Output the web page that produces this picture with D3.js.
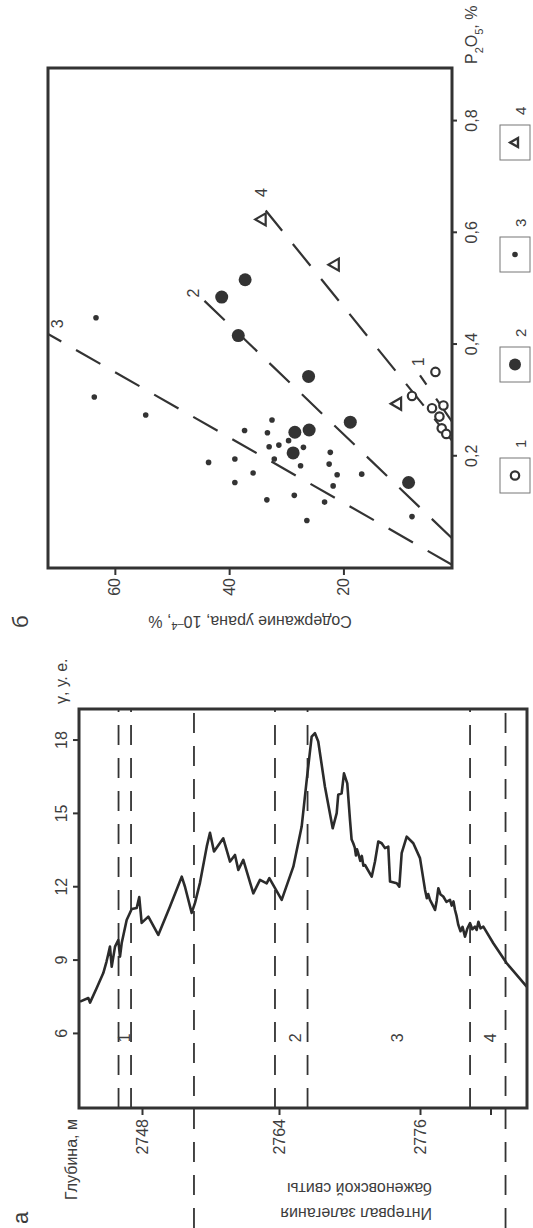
<!DOCTYPE html>
<html><head><meta charset="utf-8">
<script src="https://cdn.jsdelivr.net/npm/d3@7"></script>
<style>
body{margin:0;background:#fff}
svg{display:block}
text{font-family:"Liberation Sans",Arial,sans-serif;fill:#3d3d3d}
</style>
</head><body>
<svg id="c" width="533" height="1228"></svg>
<script>
// ---------- panel a: gamma log ----------
const gammaTicks = [6, 9, 12, 15, 18];
const depthTicks = [2748, 2764, 2776, 2782];
const depthTickLabels = ["2748", "2764", "2776", ""];
const gammaDepth = [2740.76,2741.73,2741.93,2742.71,2743.48,2743.85,2744.05,2744.26,2744.46,2744.85,2745.23,2745.43,
 2745.63,2746.21,2746.80,2747.38,2747.68,2747.96,2748.74,2749.90,2751.27,2752.64,
 2753.02,2753.80,2754.19,2754.77,2755.56,2755.94,2756.41,2757.49,2758.28,2758.86,
 2759.25,2759.83,2761.00,2761.78,2762.56,2762.87,2764.23,2765.22,2765.93,2766.36,
 2766.78,2767.06,2767.34,2767.91,2768.57,2768.91,2769.04,2769.33,2769.53,2769.81,
 2770.05,2770.18,2770.32,2770.45,2770.55,2770.64,2770.74,2770.92,2771.05,2771.18,2771.32,
 2771.89,2772.17,2772.45,2772.74,2773.02,2773.30,2773.45,
 2774.02,2774.24,2774.44,2774.87,2775.43,2776.00,2776.43,2776.58,2776.70,2776.85,2777.05,2777.28,2777.42,2777.56,
 2777.75,2777.98,2778.25,2778.55,2778.70,2778.85,2778.98,2779.10,2779.26,2779.45,2779.62,2779.83,2780.02,2780.26,2780.45,2780.68,2780.82,2780.97,2781.15,2781.39,2782.24,
 2783.38,2785.08];
const gammaValue = [7.32,7.47,7.28,7.88,8.49,8.95,9.25,9.57,8.75,9.57,9.84,9.16,
 9.72,10.66,11.11,11.15,11.60,10.54,10.80,10.05,11.21,12.43,
 12.02,10.95,11.36,12.18,13.66,14.23,13.46,14.00,13.05,13.32,
 12.71,13.12,11.75,12.30,12.16,12.37,11.48,12.84,14.48,16.39,
 18.16,18.30,17.96,16.11,14.41,15.03,15.78,15.84,16.66,16.25,
 14.70,13.95,13.80,13.62,13.30,13.55,13.39,13.08,13.28,12.88,12.91,
 12.43,13.05,13.87,13.80,13.60,13.66,12.23,
 12.16,12.02,13.39,14.07,13.80,13.19,11.89,11.55,11.72,11.48,11.30,11.07,11.45,11.96,
 11.70,11.62,11.40,11.48,11.25,11.42,11.07,10.85,10.46,10.20,10.38,9.98,10.30,10.53,10.28,10.39,10.25,10.59,10.32,10.39,9.71,
 8.89,7.93];
const zoneBoundaries = [2745.26, 2746.72, 2754.07, 2763.53, 2766.43, 2780.26, 2783.28];
const bazhenovBounds = [2754.07, 2783.28];
const zoneLabels = ["1", "2", "3", "4"];
const zoneLabelDepth = [2746.0, 2765.36, 2774.04, 2781.96];
const zoneLabelGamma = 5.84;

// ---------- panel б: U vs P2O5 ----------
const p2o5Ticks = [0.2, 0.4, 0.6, 0.8];
const p2o5TickLabels = ["0,2", "0,4", "0,6", "0,8"];
const uTicks = [20, 40, 60];
const g1P = [0.351, 0.308, 0.286, 0.291, 0.271, 0.250, 0.240];
const g1U = [3.9, 8.0, 4.5, 2.5, 3.2, 2.8, 2.0];
const g2P = [0.485, 0.516, 0.416, 0.343, 0.261, 0.243, 0.247, 0.206, 0.153];
const g2U = [41.3, 37.2, 38.4, 26.1, 18.8, 28.5, 26.0, 28.8, 8.6];
const g3P = [0.448, 0.306, 0.274, 0.265, 0.246, 0.242, 0.228, 0.220, 0.217, 0.216, 0.195, 0.195, 0.207,
 0.189, 0.183, 0.186, 0.170, 0.167, 0.168, 0.153, 0.147, 0.130, 0.122, 0.118, 0.085, 0.092];
const g3U = [63.3, 63.6, 54.6, 32.5, 37.3, 33.3, 29.6, 31.3, 33.0, 27.0, 39.0, 32.1, 22.3,
 43.6, 27.5, 22.5, 35.8, 21.1, 16.8, 39.0, 21.8, 28.6, 33.4, 23.3, 26.4, 8.0];
const g4P = [0.624, 0.543, 0.294];
const g4U = [34.3, 21.5, 10.6];
const trendNames = ["1", "2", "3", "4"];
const trendStartP = [0.262, 0.0532, 0.0058, 0.228];
const trendEndP = [0.345, 0.480, 0.419, 0.640];
const trendStartU = [1.0, 1.0, 1.0, 1.0];
const trendEndU = [6.6, 44.5, 71.7, 33.6];
const trendLabelP = [0.369, 0.492, 0.437, 0.672];
const trendLabelU = [6.9, 46.3, 70.1, 34.3];
const legendLabels = ["1", "2", "3", "4"];

const INK = "#333";
const FS = "16px";
const svg = d3.select("#c");
// figure is drawn in its original landscape frame and turned 90° counter-clockwise
const g = svg.append("g").attr("transform", "translate(0,1228) rotate(-90)");

// ===== panel a =====
const aL = 120, aR = 519, aT = 79, aB = 527;
const gx = d3.scaleLinear().domain([2.97, 19.29]).range([aL, aR]);
const dy = d3.scaleLinear().domain([2748, 2764, 2776]).range([142, 279, 420]);

g.append("clipPath").attr("id", "clipA").append("rect")
  .attr("x", aL).attr("y", aT).attr("width", aR - aL).attr("height", aB - aT);

// zone boundaries
g.append("g").selectAll("line").data(zoneBoundaries).join("line")
  .attr("x1", d => bazhenovBounds.includes(d) ? 0 : aL)
  .attr("x2", aR)
  .attr("y1", d => dy(d)).attr("y2", d => dy(d))
  .attr("stroke", INK).attr("stroke-width", 1.8).attr("stroke-dasharray", "20,13");

// gamma curve
const pts = gammaDepth.map((d, i) => [gammaValue[i], d]);
g.append("path").datum(pts)
  .attr("clip-path", "url(#clipA)")
  .attr("d", d3.line().x(p => gx(p[0])).y(p => dy(p[1])))
  .attr("fill", "none").attr("stroke", "#2b2b2b").attr("stroke-width", 2.6)
  .attr("stroke-linejoin", "round");

// zone labels
g.append("g").selectAll("text").data(zoneLabels).join("text")
  .attr("x", gx(zoneLabelGamma)).attr("y", (d, i) => dy(zoneLabelDepth[i]))
  .attr("dy", "0.35em").attr("text-anchor", "middle")
  .style("font-size", FS).text(d => d);

// box
g.append("rect").attr("x", aL).attr("y", aT).attr("width", aR - aL).attr("height", aB - aT)
  .attr("fill", "none").attr("stroke", INK).attr("stroke-width", 3);

// axes
const axG = g.append("g").attr("transform", `translate(0,${aT})`)
  .call(d3.axisTop(gx).tickValues(gammaTicks).tickSize(6).tickPadding(6));
const axD = g.append("g").attr("transform", `translate(${aL},0)`)
  .call(d3.axisLeft(dy).tickValues(depthTicks).tickFormat((d, i) => depthTickLabels[i]).tickSize(7).tickPadding(4));
[axG, axD].forEach(a => {
  a.select(".domain").remove();
  a.selectAll("line").attr("stroke", INK).attr("stroke-width", 2);
  a.selectAll("text").style("font-size", FS).attr("fill", "#3d3d3d")
   .style("font-family", null);
});

g.append("text").attr("x", aR + 5).attr("y", aT - 12).style("font-size", FS).text("γ, у. е.");
g.append("text").attr("x", 109).attr("y", 77).attr("text-anchor", "end").style("font-size", FS).text("Глубина, м");
g.append("text").attr("x", 4).attr("y", 28).style("font-size", "22px").text("а");
const tInt = g.append("text").attr("transform", "translate(20,432) rotate(-90)").style("font-size", FS);
tInt.append("tspan").attr("x", 0).attr("y", 0).text("Интервал залегания");
tInt.append("tspan").attr("x", 0).attr("y", 25).text("баженовской свиты");

// ===== panel б =====
const bL = 660, bR = 1160, bT = 48, bB = 452;
const px = d3.scaleLinear().domain([0, 0.895]).range([bL, bR]);
const uy = d3.scaleLinear().domain([1, 71.7]).range([bB, bT]);

g.append("clipPath").attr("id", "clipB").append("rect")
  .attr("x", bL).attr("y", bT).attr("width", bR - bL).attr("height", bB - bT);

// trend lines
g.append("g").attr("clip-path", "url(#clipB)").selectAll("line").data(trendNames).join("line")
  .attr("x1", (d, i) => px(trendStartP[i])).attr("y1", (d, i) => uy(trendStartU[i]))
  .attr("x2", (d, i) => px(trendEndP[i])).attr("y2", (d, i) => uy(trendEndU[i]))
  .attr("stroke", INK).attr("stroke-width", 2.2).attr("stroke-dasharray", "28,17");
g.append("g").selectAll("text").data(trendNames).join("text")
  .attr("x", (d, i) => px(trendLabelP[i])).attr("y", (d, i) => uy(trendLabelU[i]))
  .attr("dy", "0.35em").attr("text-anchor", "middle").style("font-size", FS).text(d => d);

// symbols
function tri(cx, cy, s) {
  const h = s * 0.87;
  return `M${cx},${cy - h * 0.62}L${cx + s / 2},${cy + h * 0.38}L${cx - s / 2},${cy + h * 0.38}Z`;
}
g.append("g").selectAll("circle").data(g3P).join("circle")
  .attr("cx", (d) => px(d)).attr("cy", (d, i) => uy(g3U[i])).attr("r", 2.8).attr("fill", INK);
g.append("g").selectAll("circle").data(g2P).join("circle")
  .attr("cx", (d) => px(d)).attr("cy", (d, i) => uy(g2U[i])).attr("r", 6.5).attr("fill", INK);
g.append("g").selectAll("circle").data(g1P).join("circle")
  .attr("cx", (d) => px(d)).attr("cy", (d, i) => uy(g1U[i])).attr("r", 4.2)
  .attr("fill", "#fff").attr("stroke", INK).attr("stroke-width", 2.2);
g.append("g").selectAll("path").data(g4P).join("path")
  .attr("d", (d, i) => tri(px(d), uy(g4U[i]), 12))
  .attr("fill", "none").attr("stroke", INK).attr("stroke-width", 2.2);

// box
g.append("rect").attr("x", bL).attr("y", bT).attr("width", bR - bL).attr("height", bB - bT)
  .attr("fill", "none").attr("stroke", INK).attr("stroke-width", 3);

const axP = g.append("g").attr("transform", `translate(0,${bB})`)
  .call(d3.axisBottom(px).tickValues(p2o5Ticks).tickFormat((d, i) => p2o5TickLabels[i]).tickSize(5).tickPadding(9));
const axU = g.append("g").attr("transform", `translate(${bL},0)`)
  .call(d3.axisLeft(uy).tickValues(uTicks).tickSize(7).tickPadding(3));
[axP, axU].forEach(a => {
  a.select(".domain").remove();
  a.selectAll("line").attr("stroke", INK).attr("stroke-width", 2);
  a.selectAll("text").style("font-size", FS).attr("fill", "#3d3d3d").style("font-family", null);
});

const tP = g.append("text").attr("x", bR + 4).attr("y", bB + 25).style("font-size", FS);
tP.append("tspan").text("P");
tP.append("tspan").attr("baseline-shift", "sub").style("font-size", "11px").text("2");
tP.append("tspan").text("O");
tP.append("tspan").attr("baseline-shift", "sub").style("font-size", "11px").text("5");
tP.append("tspan").text(", %");

const tU = g.append("text").attr("transform", `translate(612,${(bT + bB) / 2}) rotate(-90)`)
  .attr("text-anchor", "middle").style("font-size", FS);
tU.append("tspan").text("Содержание урана, 10");
tU.append("tspan").attr("baseline-shift", "super").style("font-size", "11px").text("–4");
tU.append("tspan").text(", %");

g.append("text").attr("x", 600).attr("y", 28).style("font-size", "22px").text("б");

// legend
const legX = [735, 846, 956, 1068];
const legG = g.append("g").selectAll("g").data(legendLabels).join("g")
  .attr("transform", (d, i) => `translate(${legX[i]},500)`);
legG.append("rect").attr("width", 35).attr("height", 30).attr("fill", "none")
  .attr("stroke", "#777").attr("stroke-width", 1);
legG.append("text").attr("x", 45).attr("y", 26).style("font-size", "15px").text(d => d);
legG.filter((d, i) => i === 0).append("circle").attr("cx", 17.5).attr("cy", 15).attr("r", 4.2)
  .attr("fill", "#fff").attr("stroke", INK).attr("stroke-width", 2.2);
legG.filter((d, i) => i === 1).append("circle").attr("cx", 17.5).attr("cy", 15).attr("r", 6).attr("fill", INK);
legG.filter((d, i) => i === 2).append("circle").attr("cx", 17.5).attr("cy", 15).attr("r", 2.8).attr("fill", INK);
legG.filter((d, i) => i === 3).append("path").attr("d", tri(17.5, 15, 9))
  .attr("fill", "none").attr("stroke", INK).attr("stroke-width", 2.4);
</script>
</body></html>
